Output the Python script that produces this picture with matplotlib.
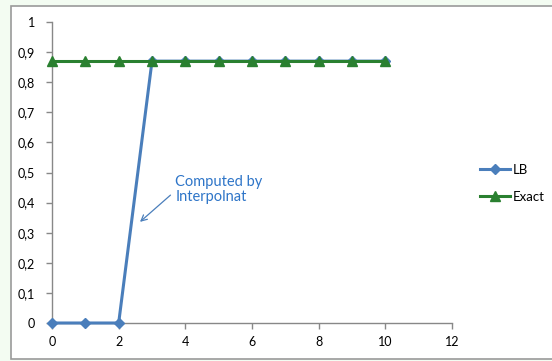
import matplotlib
matplotlib.use("Agg")
import matplotlib.pyplot as plt
from matplotlib.patches import Rectangle

plt.rcParams['font.family'] = ['Lato', 'DejaVu Sans']

x_vals = [0, 1, 2, 3, 4, 5, 6, 7, 8, 9, 10]
lb_vals = [0, 0, 0, 0.87, 0.87, 0.87, 0.87, 0.87, 0.87, 0.87, 0.87]
exact_vals = [0.87, 0.87, 0.87, 0.87, 0.87, 0.87, 0.87, 0.87, 0.87, 0.87, 0.87]
x_ticks = [0, 2, 4, 6, 8, 10, 12]
y_ticks = [0, 0.1, 0.2, 0.3, 0.4, 0.5, 0.6, 0.7, 0.8, 0.9, 1]
y_labels = ['0', '0,1', '0,2', '0,3', '0,4', '0,5', '0,6', '0,7', '0,8', '0,9', '1']

W, H = 552, 361
fig = plt.figure(figsize=(W / 100, H / 100), dpi=100)
fig.patch.set_facecolor('#f3fcf2')

# white chart frame behind everything
frame = Rectangle((11 / W, 1 - 359 / H), 1, (359 - 6) / H,
                  transform=fig.transFigure, facecolor='white',
                  edgecolor='#9a9a9a', linewidth=1.2, zorder=-10)
fig.patches.append(frame)

ax = fig.add_axes([52 / W, 1 - 323 / H, 400 / W, 301 / H])
ax.set_zorder(5)
ax.set_facecolor('none')
ax.set_xlim(0, 12)
ax.set_ylim(0, 1)

blue = '#4a7ebb'
green = '#2a8030'
ax.plot(x_vals, lb_vals, color=blue, linewidth=2.2, marker='D',
        markersize=5.5, label='LB', clip_on=False, zorder=3)
ax.plot(x_vals, exact_vals, color=green, linewidth=2.2, marker='^',
        markersize=7.5, label='Exact', clip_on=False, zorder=4)

ax.set_xticks(x_ticks)
ax.set_yticks(y_ticks)
ax.set_yticklabels(y_labels)
for s in ['top', 'right']:
    ax.spines[s].set_visible(False)
for s in ['left', 'bottom']:
    ax.spines[s].set_color('#888888')
    ax.spines[s].set_linewidth(1.0)
ax.tick_params(axis='both', colors='#888888', labelcolor='black',
               labelsize=9, length=4, width=1, direction='out')
ax.tick_params(axis='y', pad=8)
ax.tick_params(axis='x', pad=5)

ax.annotate('Computed by\nInterpolnat', xy=(2.64, 0.336), xytext=(3.7, 0.444),
            color='#2e75c8', fontsize=10.5, ha='left', va='center',
            linespacing=1.15,
            arrowprops=dict(arrowstyle='->', color='#4a7ebb', lw=0.9,
                            shrinkA=2, shrinkB=0, relpos=(0, 0.45)))

leg = fig.legend(loc='upper left', bbox_to_anchor=(480 / W, 1 - 164 / H),
                 frameon=False, fontsize=9.5, handlelength=2.3,
                 handletextpad=0.15, labelspacing=1.1, borderaxespad=0,
                 borderpad=0)
leg.set_zorder(6)
leg.legend_handles[0].set_markersize(5)
leg.legend_handles[1].set_markersize(7)

fig.savefig('out.png', dpi=100, facecolor=fig.get_facecolor())
